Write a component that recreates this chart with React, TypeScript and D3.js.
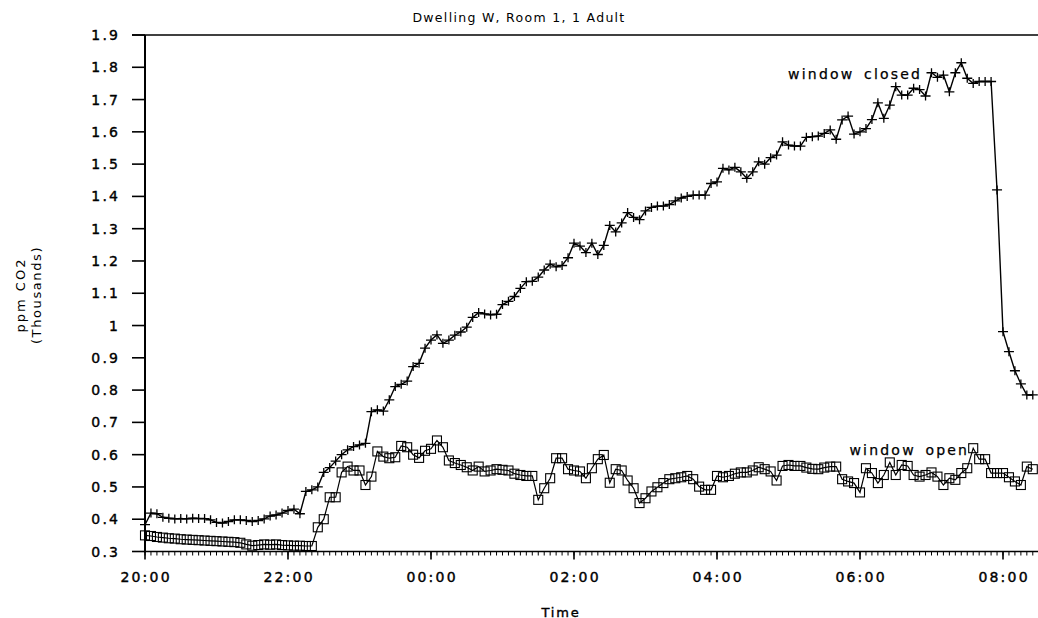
import React from 'react';
import * as d3 from 'd3';

const title = 'Dwelling W, Room 1, 1 Adult';
const yAxisTitle = ['ppm CO2', '(Thousands)'];
const xAxisTitle = 'Time';
const closedLabel = 'window closed';
const openLabel = 'window open';

const startTime = '20:00';
const intervalMinutes = 5;

const yTickLabels = ['0.3', '0.4', '0.5', '0.6', '0.7', '0.8', '0.9', '1', '1.1', '1.2', '1.3', '1.4', '1.5', '1.6', '1.7', '1.8', '1.9'];
const xTickLabels = ['20:00', '22:00', '00:00', '02:00', '04:00', '06:00', '08:00'];

// window closed (+ markers), ppm CO2 in thousands, every 5 minutes from 20:00
const closedValues = [
  0.383, 0.419, 0.417, 0.406, 0.403, 0.401, 0.402, 0.401, 0.403, 0.402,
  0.402, 0.398, 0.390, 0.388, 0.393, 0.398, 0.398, 0.396, 0.393, 0.396,
  0.401, 0.410, 0.413, 0.419, 0.427, 0.431, 0.417, 0.486, 0.491, 0.500,
  0.545, 0.560, 0.580, 0.600, 0.615, 0.625, 0.630, 0.635, 0.733, 0.739,
  0.735, 0.770, 0.811, 0.818, 0.828, 0.873, 0.883, 0.930, 0.955, 0.971,
  0.945, 0.955, 0.970, 0.980, 0.995, 1.025, 1.040, 1.036, 1.033, 1.035,
  1.065, 1.075, 1.090, 1.115, 1.136, 1.137, 1.150, 1.172, 1.190, 1.182,
  1.186, 1.210, 1.255, 1.246, 1.226, 1.255, 1.220, 1.248, 1.310, 1.290,
  1.318, 1.350, 1.335, 1.328, 1.355, 1.366, 1.370, 1.370, 1.375, 1.386,
  1.395, 1.400, 1.404, 1.404, 1.404, 1.440, 1.445, 1.487, 1.482, 1.490,
  1.476, 1.456, 1.476, 1.507, 1.500, 1.520, 1.528, 1.569, 1.559, 1.556,
  1.556, 1.583, 1.585, 1.587, 1.595, 1.606, 1.577, 1.637, 1.649, 1.593,
  1.600, 1.610, 1.638, 1.690, 1.642, 1.683, 1.740, 1.714, 1.714, 1.735,
  1.731, 1.711, 1.783, 1.769, 1.776, 1.724, 1.783, 1.814, 1.766, 1.750,
  1.756, 1.756, 1.756, 1.420, 0.981, 0.919, 0.860, 0.819, 0.785, 0.785,
];

// window open (square markers)
const openValues = [
  0.350, 0.348, 0.345, 0.343, 0.341, 0.340, 0.338, 0.337, 0.336, 0.335,
  0.334, 0.333, 0.332, 0.331, 0.330, 0.329, 0.327, 0.322, 0.318, 0.320,
  0.322, 0.321, 0.322, 0.320, 0.319, 0.318, 0.318, 0.317, 0.317, 0.375,
  0.400, 0.468, 0.468, 0.545, 0.563, 0.551, 0.551, 0.506, 0.532, 0.610,
  0.594, 0.589, 0.592, 0.627, 0.623, 0.600, 0.590, 0.612, 0.618, 0.644,
  0.623, 0.582, 0.574, 0.568, 0.561, 0.551, 0.563, 0.548, 0.551, 0.555,
  0.553, 0.551, 0.541, 0.537, 0.534, 0.534, 0.460, 0.496, 0.527, 0.589,
  0.589, 0.555, 0.551, 0.548, 0.527, 0.558, 0.586, 0.599, 0.513, 0.555,
  0.551, 0.520, 0.496, 0.450, 0.465, 0.486, 0.499, 0.512, 0.524, 0.527,
  0.530, 0.534, 0.524, 0.501, 0.491, 0.491, 0.534, 0.530, 0.534, 0.541,
  0.545, 0.545, 0.551, 0.561, 0.555, 0.548, 0.520, 0.565, 0.568, 0.565,
  0.565, 0.560, 0.556, 0.555, 0.560, 0.563, 0.563, 0.524, 0.517, 0.512,
  0.483, 0.558, 0.543, 0.512, 0.537, 0.576, 0.537, 0.568, 0.565, 0.537,
  0.532, 0.537, 0.545, 0.532, 0.506, 0.527, 0.522, 0.543, 0.558, 0.620,
  0.586, 0.586, 0.543, 0.543, 0.543, 0.530, 0.517, 0.506, 0.563, 0.555,
];

const FONT = "'DejaVu Sans', Verdana, sans-serif";

function parseStart(s: string): Date {
  const [h, m] = s.split(':').map(Number);
  return new Date(2000, 0, 1, h, m);
}

export default function App() {
  const W = 1038;
  const H = 618;
  const left = 145;
  const top = 35;
  const bottom = 551.5;
  const t0 = parseStart(startTime);
  const tEnd = d3.timeMinute.offset(t0, 750);

  // 20:00 -> 145, 08:00 -> 1003
  const pxPerMin = (1003 - left) / 720;
  const x = d3.scaleTime().domain([t0, tEnd]).range([left, left + 750 * pxPerMin]);
  const y = d3.scaleLinear().domain([0.3, 1.9]).range([bottom, top]);

  const times = closedValues.map((_, i) => d3.timeMinute.offset(t0, i * intervalMinutes));
  const line = d3
    .line<number>()
    .x((_, i) => x(times[i]))
    .y((d) => y(d));

  const majorTicks = xTickLabels.map((_, i) => d3.timeHour.offset(t0, i * 2));
  const minorTicks = d3.timeMinute.every(5)!.range(t0, tEnd);

  const ls = 2.2;

  return (
    <svg
      width={W}
      height={H}
      style={{ position: 'absolute', left: 0, top: 0, background: '#fff' }}
      fontFamily={FONT}
    >
      <rect x={0} y={0} width={W} height={H} fill="#fff" />
      {/* title */}
      <text x={519} y={17} textAnchor="middle" dominantBaseline="central" fontSize={12.5} letterSpacing={1.3}>
        {title}
      </text>
      {/* top border */}
      <line x1={132} x2={W} y1={top} y2={top} stroke="#000" strokeWidth={1.6} />
      {/* y axis */}
      <line x1={left} x2={left} y1={top} y2={bottom + 1} stroke="#000" strokeWidth={2} />
      {yTickLabels.map((lab) => {
        const v = +lab;
        return (
          <g key={lab}>
            <line x1={132} x2={left} y1={y(v)} y2={y(v)} stroke="#000" strokeWidth={1.6} />
            <text
              x={118 + ls}
              y={y(v)}
              textAnchor="end"
              dominantBaseline="central"
              fontSize={14}
              letterSpacing={ls}
              stroke="#000"
              strokeWidth={0.4}
            >
              {lab}
            </text>
          </g>
        );
      })}
      {/* x axis */}
      <line x1={left} x2={W} y1={bottom} y2={bottom} stroke="#000" strokeWidth={1.6} />
      {minorTicks.map((t, i) => (
        <line key={'m' + i} x1={x(t)} x2={x(t)} y1={bottom} y2={bottom + 4} stroke="#000" strokeWidth={1} />
      ))}
      {majorTicks.map((t, i) => (
        <g key={'M' + i}>
          <line x1={x(t)} x2={x(t)} y1={bottom} y2={bottom + 8} stroke="#000" strokeWidth={1.6} />
          <text
            x={x(t) + ls / 2}
            y={577}
            textAnchor="middle"
            dominantBaseline="central"
            fontSize={14}
            letterSpacing={ls}
            stroke="#000"
            strokeWidth={0.4}
          >
            {xTickLabels[i]}
          </text>
        </g>
      ))}
      {/* axis titles */}
      <text
        x={561}
        y={612}
        textAnchor="middle"
        dominantBaseline="central"
        fontSize={13}
        letterSpacing={1.8}
        stroke="#000"
        strokeWidth={0.4}
      >
        {xAxisTitle}
      </text>
      <g transform="translate(20,295) rotate(-90)">
        <text textAnchor="middle" dominantBaseline="central" fontSize={13} letterSpacing={2}>
          {yAxisTitle[0]}
        </text>
      </g>
      <g transform="translate(36,295) rotate(-90)">
        <text textAnchor="middle" dominantBaseline="central" fontSize={13} letterSpacing={1.6}>
          {yAxisTitle[1]}
        </text>
      </g>
      {/* series */}
      <path d={line(closedValues) || ''} fill="none" stroke="#000" strokeWidth={1.4} />
      <path d={line(openValues) || ''} fill="none" stroke="#000" strokeWidth={1.2} />
      {closedValues.map((v, i) => {
        const cx = x(times[i]);
        const cy = y(v);
        return (
          <path
            key={'c' + i}
            d={`M${cx - 5},${cy}H${cx + 5}M${cx},${cy - 4.5}V${cy + 4.5}`}
            stroke="#000"
            strokeWidth={1.3}
            fill="none"
          />
        );
      })}
      {openValues.map((v, i) => {
        const cx = x(times[i]);
        const cy = y(v);
        return (
          <rect
            key={'o' + i}
            x={cx - 4.5}
            y={cy - 4.5}
            width={9}
            height={9}
            fill="none"
            stroke="#000"
            strokeWidth={1.1}
          />
        );
      })}
      {/* series labels */}
      <text x={920 + ls} y={73.5} textAnchor="end" dominantBaseline="central" fontSize={14} letterSpacing={ls} wordSpacing={3} stroke="#000" strokeWidth={0.25}>
        {closedLabel}
      </text>
      <text x={967 + ls} y={449.5} textAnchor="end" dominantBaseline="central" fontSize={14} letterSpacing={ls} wordSpacing={3} stroke="#000" strokeWidth={0.25}>
        {openLabel}
      </text>
    </svg>
  );
}
